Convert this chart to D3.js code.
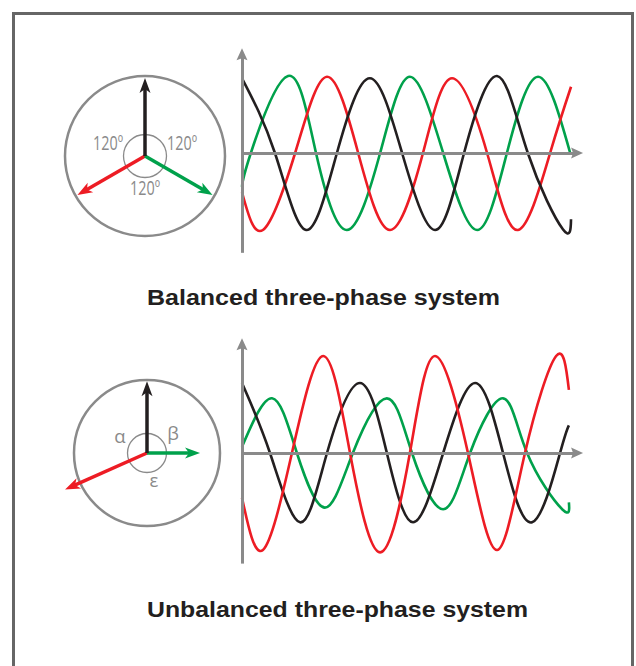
<!DOCTYPE html>
<html>
<head>
<meta charset="utf-8">
<script src="https://cdn.jsdelivr.net/npm/d3@7"></script>
<style>
  body { margin: 0; background: #fff; }
  svg { display: block; }
</style>
</head>
<body>
<svg></svg>
<script>
const w = 636
const h = 666

// phase order: black, green, red
const phaseColors = ['#231f20', '#00a14b', '#ed1c24']
const titles = ['Balanced three-phase system', 'Unbalanced three-phase system']

// phasors: magnitude (per unit) and angle (deg)
const balancedMag = [1, 1, 1]
const balancedAng = [90, -30, 210]
const balancedLabels = ['120º', '120º', '120º']
const unbalancedMag = [0.92, 0.68, 1.15]
const unbalancedAng = [90, 0, 204]
const unbalancedLabels = ['α', 'β', 'ε']

// waveforms [angle deg, value p.u.] read at peaks, troughs and zero crossings
const balBlack = [[0,0.97],[93,0],[181,-1],[268,0],[361,0.97],[452,0],[545,-1],[627,0],[720,1],[807,0],[906,-0.99],[929,-0.86]]
const balGreen = [[0,-0.44],[25,0],[130,1],[209,0],[296,-1],[390,0],[474,0.99],[568,0],[664,-1],[748,0],[836,0.99],[926,0.01]]
const balRed = [[0,-0.51],[59,-1],[150,0],[240,0.99],[328,0],[418,-1],[511,0],[593,0.97],[692,0],[779,-1],[870,0],[929,0.86]]

const unbBlack = [[0,0.91],[79,0],[164,-0.9],[240,0],[333,0.91],[409,0],[483,-0.9],[568,0],[658,0.91],[737,0],[819,-0.9],[898,0],[923,0.36]]
const unbGreen = [[0,0.08],[85,0.71],[155,0],[234,-0.71],[313,0],[409,0.71],[480,0],[568,-0.73],[644,0],[737,0.71],[805,0],[904,-0.73],[923,-0.64]]
const unbRed = [[0,-0.58],[59,-1.26],[141,0],[229,1.26],[305,0],[390,-1.29],[474,0],[545,1.26],[638,0],[720,-1.26],[799,0],[887,1.26],[923,0.82]]

const gray = '#8a8a8a'

const svg = d3.select('svg')
  .attr('width', w)
  .attr('height', h)

// frame
svg.append('rect')
  .attr('x', 13.5).attr('y', 13.5)
  .attr('width', 619).attr('height', 700)
  .attr('fill', 'none')
  .attr('stroke', '#666')
  .attr('stroke-width', 3)

const xScale = d3.scaleLinear().domain([0, 960]).range([0, 340])
const yScale = d3.scaleLinear().domain([-1, 1]).range([77, -77])
const pScale = d3.scaleLinear().domain([0, 1]).range([0, 78])

const line = d3.line()
  .x(d => xScale(d[0]))
  .y(d => yScale(d[1]))
  .curve(d3.curveNatural)

const panels = [
  {
    title: titles[0], titleX: 323.5, titleY: 305, titleLen: 353,
    cx: 145, cy: 156, ring: 80, inner: 21.5,
    mag: balancedMag, ang: balancedAng, labels: balancedLabels,
    labelPos: [[-37, -6], [37, -6], [0, 39]], labelSize: 19.5, labelLen: 30,
    ox: 242, oy: 153, yLo: -1.29, yTip: 1.36, xTip: 963,
    waves: [balGreen, balRed, balBlack], waveColors: [phaseColors[1], phaseColors[2], phaseColors[0]]
  },
  {
    title: titles[1], titleX: 337.5, titleY: 617, titleLen: 381,
    cx: 147, cy: 453, ring: 73, inner: 19.5,
    mag: unbalancedMag, ang: unbalancedAng, labels: unbalancedLabels,
    labelPos: [[-27, -10], [26, -13], [7, 34]], labelSize: 18.5, labelLen: null,
    ox: 242, oy: 453, yLo: -1.43, yTip: 1.49, xTip: 963,
    waves: [unbGreen, unbBlack, unbRed], waveColors: [phaseColors[1], phaseColors[0], phaseColors[2]]
  }
]

// arrow head polygon pointing along (ux, uy) with tip at (x, y)
const head = (x, y, ux, uy, len, half, notch) => {
  const px = -uy, py = ux
  const bx = x - ux * len, by = y - uy * len
  const nx = x - ux * (len - notch), ny = y - uy * (len - notch)
  return `M${x},${y}L${bx + px * half},${by + py * half}L${nx},${ny}L${bx - px * half},${by - py * half}Z`
}

panels.forEach(p => {
  // ---- phasor diagram
  const pg = svg.append('g').attr('transform', `translate(${p.cx}, ${p.cy})`)

  pg.append('circle').attr('r', p.ring)
    .attr('fill', 'none').attr('stroke', gray).attr('stroke-width', 2.5)
  pg.append('circle').attr('r', p.inner)
    .attr('fill', 'none').attr('stroke', gray).attr('stroke-width', 1.3)

  p.labels.forEach((t, i) => {
    const txt = pg.append('text')
      .attr('x', p.labelPos[i][0])
      .attr('y', p.labelPos[i][1])
      .attr('text-anchor', 'middle')
      .attr('font-family', 'Open Sans, sans-serif')
      .attr('font-size', p.labelSize)
      .attr('fill', gray)
      .text(t)
    if (p.labelLen) txt.attr('textLength', p.labelLen).attr('lengthAdjust', 'spacingAndGlyphs')
  })

  // draw red, green, then black on top
  ;[2, 1, 0].forEach(i => {
    const a = p.ang[i] * Math.PI / 180
    const r = pScale(p.mag[i])
    const ux = Math.cos(a), uy = -Math.sin(a)
    const tx = ux * r, ty = uy * r
    pg.append('line')
      .attr('x1', 0).attr('y1', 0)
      .attr('x2', tx - ux * 10).attr('y2', ty - uy * 10)
      .attr('stroke', phaseColors[i])
      .attr('stroke-width', 3.5)
    pg.append('path')
      .attr('d', head(tx, ty, ux, uy, 15, 5.5, 4))
      .attr('fill', phaseColors[i])
  })

  // ---- waveform chart
  const g = svg.append('g').attr('transform', `translate(${p.ox}, ${p.oy})`)

  p.waves.forEach((d, i) => {
    g.append('path')
      .attr('d', line(d))
      .attr('fill', 'none')
      .attr('stroke', p.waveColors[i])
      .attr('stroke-width', 2.6)
  })

  const xAxisScale = d3.scaleLinear().domain([0, p.xTip]).range([0, xScale(p.xTip) - 6])
  const yAxisScale = d3.scaleLinear().domain([p.yLo, p.yTip]).range([yScale(p.yLo), yScale(p.yTip) + 6])

  const xAxisG = g.append('g').call(d3.axisBottom(xAxisScale).tickValues([]).tickSizeOuter(0))
  const yAxisG = g.append('g').call(d3.axisLeft(yAxisScale).tickValues([]).tickSizeOuter(0))
  ;[xAxisG, yAxisG].forEach(a => a.select('.domain')
    .attr('stroke', gray).attr('stroke-width', 3))

  g.append('path')
    .attr('d', head(xScale(p.xTip), 0, 1, 0, 12, 5.5, 2))
    .attr('fill', gray)
  g.append('path')
    .attr('d', head(0, yScale(p.yTip), 0, -1, 12, 5.5, 2))
    .attr('fill', gray)

  // ---- title
  svg.append('text')
    .attr('x', p.titleX)
    .attr('y', p.titleY)
    .attr('text-anchor', 'middle')
    .attr('font-family', 'Liberation Sans, Arial, sans-serif')
    .attr('font-weight', 'bold')
    .attr('font-size', 21.5)
    .attr('fill', '#231f20')
    .attr('textLength', p.titleLen)
    .attr('lengthAdjust', 'spacingAndGlyphs')
    .text(p.title)
})
</script>
</body>
</html>
